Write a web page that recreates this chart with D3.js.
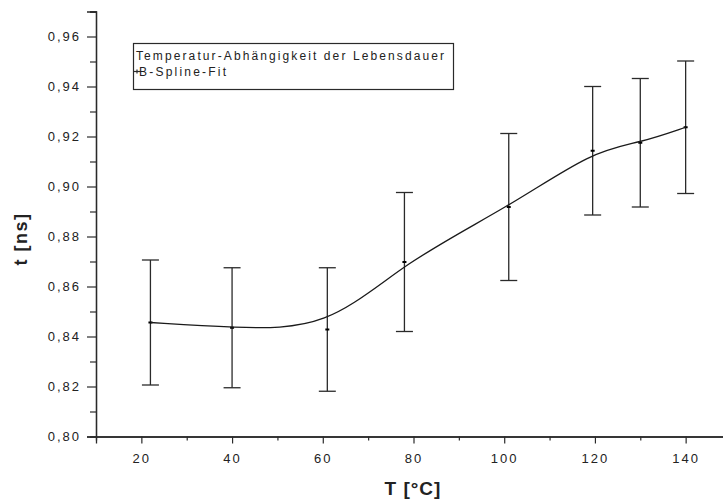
<!DOCTYPE html>
<meta charset="utf-8">
<script src="https://d3js.org/d3.v7.min.js"></script>
<style>
    body { margin: 0; background: #fff; }
    text { font-family: "Liberation Sans", Arial, sans-serif; fill: #222; }
</style>
<body>
    <div id="chart"></div>
</body>
<script>

    // data
    var temps = [22, 40, 61, 78, 101, 119.5, 130, 140];
    var tau = [0.8456, 0.8435, 0.8428, 0.8698, 0.8918, 0.9143, 0.9175, 0.9237];
    var tauErr = [0.0250, 0.0240, 0.0247, 0.0278, 0.0294, 0.0257, 0.0257, 0.0265];

    var xMajor = [20, 40, 60, 80, 100, 120, 140];
    var xMinor = [30, 50, 70, 90, 110, 130, 150];
    var yMajor = [0.80, 0.82, 0.84, 0.86, 0.88, 0.90, 0.92, 0.94, 0.96];
    var yMinor = [0.81, 0.83, 0.85, 0.87, 0.89, 0.91, 0.93, 0.95, 0.97];

    var legendTitle = "Temperatur-Abhängigkeit der Lebensdauer";
    var legendSeries = "B-Spline-Fit";

    var data = temps.map(function (t, i) {
        return { T: t, tau: tau[i], err: tauErr[i] };
    });

    var W = 723, H = 501;
    var ink = "#2a2a2a";

    var svg = d3.select("#chart")
        .append("svg")
        .attr("width", W)
        .attr("height", H);

    var x = d3.scaleLinear().domain([10, 150]).range([96, 731]);
    var y = d3.scaleLinear().domain([0.80, 0.97]).range([436.5, 11.5]);

    var fmt = function (d) { return d3.format(".2f")(d).replace(".", ","); };

    // X axis
    var gx = svg.append("g")
        .attr("transform", "translate(0," + y(0.80) + ")");
    gx.append("g")
        .call(d3.axisBottom(x).tickValues(xMinor).tickSize(4).tickFormat(""));
    gx.append("g")
        .call(d3.axisBottom(x).tickValues(xMajor).tickSize(7).tickPadding(10)
            .tickFormat(d3.format("d")));

    // Y axis
    var gy = svg.append("g")
        .attr("transform", "translate(" + x(10) + ",0)");
    gy.append("g")
        .call(d3.axisLeft(y).tickValues(yMinor).tickSize(6).tickFormat(""));
    gy.append("g")
        .call(d3.axisLeft(y).tickValues(yMajor).tickSize(9).tickPadding(6)
            .tickFormat(fmt));

    svg.selectAll(".domain").attr("stroke", ink).attr("stroke-width", 1.3);
    svg.selectAll(".tick line").attr("stroke", ink).attr("stroke-width", 1.2);
    svg.selectAll(".tick text")
        .style("font-size", "13px")
        .style("letter-spacing", "2px")
        .attr("fill", "#222");

    // axis titles
    svg.append("text")
        .attr("text-anchor", "middle")
        .attr("x", 413)
        .attr("y", 495)
        .style("font-size", "19px")
        .style("font-weight", "bold")
        .style("letter-spacing", "1px")
        .text("T [°C]");

    svg.append("text")
        .attr("text-anchor", "middle")
        .attr("transform", "translate(27,239) rotate(-90)")
        .style("font-size", "18px")
        .style("font-weight", "bold")
        .style("letter-spacing", "1.5px")
        .text("t [ns]");

    // error bars
    var bars = svg.append("g")
        .selectAll("g")
        .data(data)
        .enter()
        .append("g")
        .attr("stroke", ink)
        .attr("stroke-width", 1.3);

    bars.append("line")
        .attr("x1", function (d) { return x(d.T); })
        .attr("x2", function (d) { return x(d.T); })
        .attr("y1", function (d) { return y(d.tau + d.err); })
        .attr("y2", function (d) { return y(d.tau - d.err); });
    bars.append("line")
        .attr("x1", function (d) { return x(d.T) - 8.5; })
        .attr("x2", function (d) { return x(d.T) + 8.5; })
        .attr("y1", function (d) { return y(d.tau + d.err); })
        .attr("y2", function (d) { return y(d.tau + d.err); });
    bars.append("line")
        .attr("x1", function (d) { return x(d.T) - 8.5; })
        .attr("x2", function (d) { return x(d.T) + 8.5; })
        .attr("y1", function (d) { return y(d.tau - d.err); })
        .attr("y2", function (d) { return y(d.tau - d.err); });
    // small point marks
    bars.append("line")
        .attr("x1", function (d) { return x(d.T) - 2; })
        .attr("x2", function (d) { return x(d.T) + 2; })
        .attr("y1", function (d) { return y(d.tau); })
        .attr("y2", function (d) { return y(d.tau); })
        .attr("stroke", "#000")
        .attr("stroke-width", 2);

    // B-spline fit (data as control points)
    var spline = d3.line()
        .x(function (d) { return x(d.T); })
        .y(function (d) { return y(d.tau); })
        .curve(d3.curveBasis);

    svg.append("path")
        .datum(data)
        .attr("fill", "none")
        .attr("stroke", "#1a1a1a")
        .attr("stroke-width", 1.3)
        .attr("d", spline);

    // legend
    var lg = svg.append("g");
    lg.append("rect")
        .attr("x", 133.5)
        .attr("y", 43.5)
        .attr("width", 320)
        .attr("height", 46)
        .attr("fill", "#fff")
        .attr("stroke", ink)
        .attr("stroke-width", 1.2);
    lg.append("text")
        .attr("x", 136)
        .attr("y", 59.5)
        .attr("textLength", 308)
        .attr("lengthAdjust", "spacing")
        .style("font-size", "12px")
        .text(legendTitle);
    lg.append("line")
        .attr("x1", 134).attr("x2", 141)
        .attr("y1", 71.5).attr("y2", 71.5)
        .attr("stroke", ink).attr("stroke-width", 1.2);
    lg.append("line")
        .attr("x1", 137).attr("x2", 137)
        .attr("y1", 69.5).attr("y2", 73.5)
        .attr("stroke", ink).attr("stroke-width", 1.2);
    lg.append("text")
        .attr("x", 139)
        .attr("y", 76)
        .attr("textLength", 87)
        .attr("lengthAdjust", "spacing")
        .style("font-size", "12px")
        .text(legendSeries);

</script>
